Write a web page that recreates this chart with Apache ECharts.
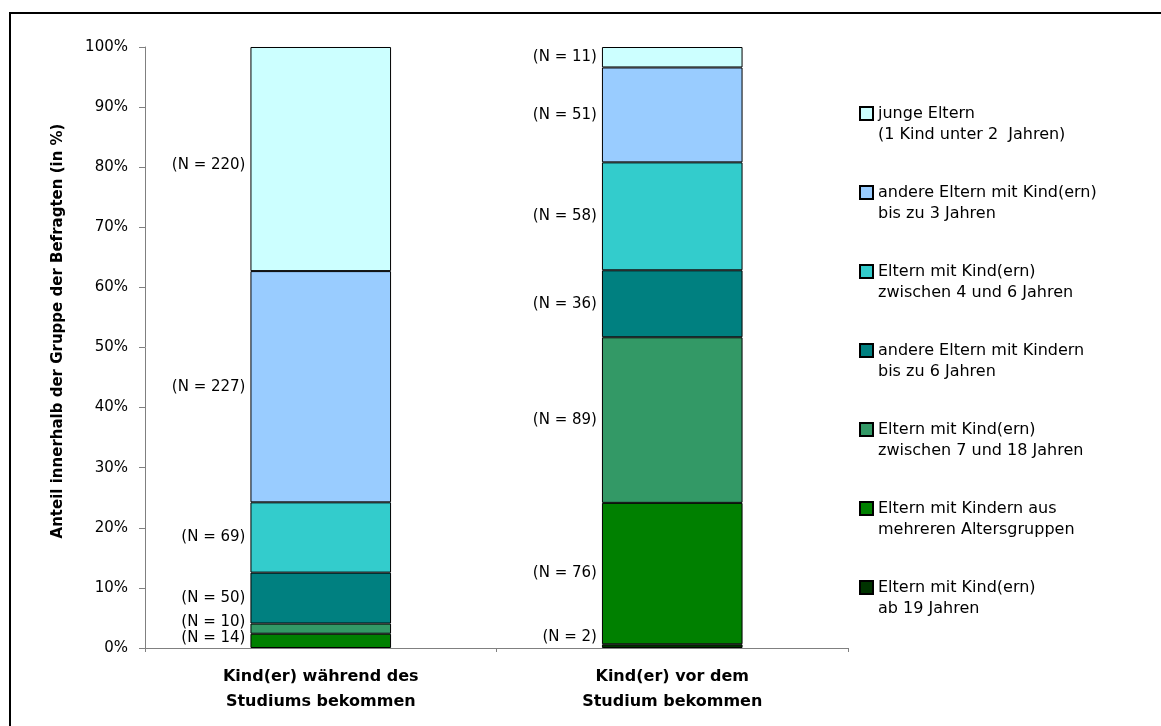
<!DOCTYPE html>
<html>
<head>
<meta charset="utf-8">
<script src="https://cdn.jsdelivr.net/npm/echarts@6/dist/echarts.min.js"></script>
<style>
html,body{margin:0;padding:0;background:#fff;}
#c{width:1161px;height:726px;}
</style>
</head>
<body>
<div id="c"></div>
<script>
// ---- data ----
const categories = ['Kind(er) während des\nStudiums bekommen', 'Kind(er) vor dem\nStudium bekommen'];
const seriesNames = [
  'Eltern mit Kind(ern)\nab 19 Jahren',
  'Eltern mit Kindern aus\nmehreren Altersgruppen',
  'Eltern mit Kind(ern)\nzwischen 7 und 18 Jahren',
  'andere Eltern mit Kindern\nbis zu 6 Jahren',
  'Eltern mit Kind(ern)\nzwischen 4 und 6 Jahren',
  'andere Eltern mit Kind(ern)\nbis zu 3 Jahren',
  'junge Eltern\n(1 Kind unter 2  Jahren)'
];
const nAb19        = [0, 2];
const nMehrere     = [14, 76];
const n7bis18      = [10, 89];
const nAndereBis6  = [50, 36];
const n4bis6       = [69, 58];
const nAndereBis3  = [227, 51];
const nJunge       = [220, 11];
const counts = [nAb19, nMehrere, n7bis18, nAndereBis6, n4bis6, nAndereBis3, nJunge];
const colors = ['#003300', '#008000', '#339966', '#008080', '#33CCCC', '#99CCFF', '#CCFFFF'];
const yTicks = [0, 10, 20, 30, 40, 50, 60, 70, 80, 90, 100];

// ---- build ----
const totals = categories.map((c, ci) => counts.reduce((s, arr) => s + arr[ci], 0));
// small vertical nudges for crowded labels (series index|category index -> px)
const nudge = {'2|0': -7, '1|0': -3, '0|1': -9, '6|0': 6};
const FONT = 'DejaVu Sans';

const series = counts.map((arr, si) => ({
  name: seriesNames[si],
  type: 'bar',
  stack: 'all',
  barWidth: '40%',
  itemStyle: {color: colors[si], borderColor: '#000', borderWidth: 1},
  label: {
    show: true,
    position: 'left',
    distance: 5,
    color: '#000',
    fontFamily: FONT,
    fontSize: 15,
    formatter: p => '(N = ' + arr[p.dataIndex] + ')'
  },
  data: arr.map((n, ci) => {
    if (n === 0) return '-';
    const d = {value: n / totals[ci] * 100};
    const off = nudge[si + '|' + ci];
    if (off) d.label = {offset: [0, off]};
    return d;
  })
}));

const chart = echarts.init(document.getElementById('c'));
chart.setOption({
  animation: false,
  backgroundColor: '#fff',
  grid: {left: 145, right: 313, top: 47, bottom: 78},
  xAxis: {
    type: 'category',
    data: categories,
    axisLine: {lineStyle: {color: '#808080', width: 1}},
    axisTick: {show: true, length: 4, lineStyle: {color: '#808080'}},
    axisLabel: {
      color: '#000', fontFamily: FONT, fontWeight: 'bold', fontSize: 16,
      lineHeight: 25, margin: 16
    }
  },
  yAxis: {
    type: 'value',
    min: 0, max: 100, interval: 10,
    axisLine: {show: true, lineStyle: {color: '#808080', width: 1}},
    axisTick: {show: true, length: 6, lineStyle: {color: '#808080'}},
    splitLine: {show: false},
    axisLabel: {
      color: '#000', fontFamily: FONT, fontSize: 15, margin: 17,
      formatter: v => (yTicks.indexOf(v) >= 0 ? v + '%' : '')
    }
  },
  legend: {
    orient: 'vertical',
    left: 859,
    top: 82,
    padding: 0,
    icon: 'rect',
    itemWidth: 13,
    itemHeight: 13,
    itemGap: 16,
    data: seriesNames.slice().reverse(),
    formatter: name => ' \n' + name,
    textStyle: {color: '#000', fontFamily: FONT, fontSize: 16, lineHeight: 21}
  },
  graphic: [
    {type: 'rect', z: -1, shape: {x: 10, y: 13, width: 1200, height: 800},
     style: {fill: 'none', stroke: '#000', lineWidth: 2}, silent: true},
    {type: 'text', x: 58, y: 331, rotation: Math.PI / 2,
     style: {text: 'Anteil innerhalb der Gruppe der Befragten (in %)', fill: '#000',
             font: 'bold 15px "DejaVu Sans"', align: 'center', verticalAlign: 'middle'}}
  ],
  series: series
});
</script>
</body>
</html>
